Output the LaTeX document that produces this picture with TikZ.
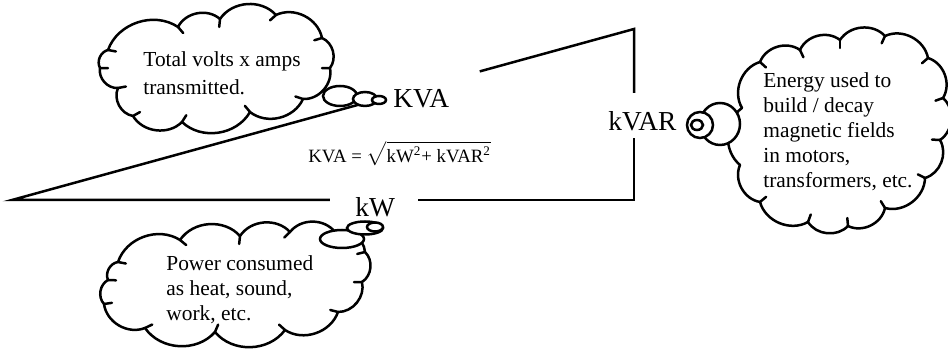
\documentclass[tikz,border=0pt]{standalone}
\usepackage{fontspec}
\setmainfont{Liberation Serif}
\usetikzlibrary{calc}

\begin{document}
\begin{tikzpicture}[
  x=0.5pt, y=-0.5pt,
  side/.style={line width=1.25pt},
  cloudline/.style={line width=1.25pt, line join=round, line cap=round},
  puff/.style={bend left=52},
  bubble/.style={line width=1.25pt, fill=white},
  note/.style={anchor=north west, inner sep=0pt, align=left,
               font=\fontsize{10.7}{12.5}\selectfont},
  qty/.style={anchor=base west, inner sep=0pt,
              font=\fontsize{13.7}{16}\selectfont}]

\useasboundingbox (0,0) rectangle (948,356);

% ================= the power triangle ====================================
\coordinate (v1) at ( 12,200);
\coordinate (v2) at (634,200);
\coordinate (v3) at (634, 29);

\draw[side] ($(v1)!0.580!(v3)$) -- (v1) -- ($(v1)!0.511!(v2)$);
\draw[side] ($(v1)!0.653!(v2)$) -- (v2) -- ($(v2)!0.363!(v3)$);
\draw[side] ($(v2)!0.626!(v3)$) -- (v3) -- ($(v3)!0.248!(v1)$);

\node[qty] (kva)  at (393,108) {KVA};
\node[qty] (kvar) at (608,131) {kVAR};
\node[qty] (kw)   at (355,217) {kW};
\node[anchor=base west, inner sep=0pt, font=\fontsize{9.4}{11}\selectfont]
  (law) at (308,163)
  {KVA = $\sqrt{\mbox{kW\textsuperscript{2}+ kVAR\textsuperscript{2}}}$};

% ================= cloud for KVA ==========================================
\coordinate (kvac) at (215,70);
\draw[cloudline] (108,50) to[puff] (178,27) to[puff] (220,19) to[puff] (276,15)
  to[puff] (322,38) to[puff] (330,68) to[puff] (303,99) to[puff] (250,112)
  to[puff] (182,122) to[puff] (133,116) to[puff] (118,88) to[puff] (100,68)
  to[puff] (108,50);
\foreach \x/\y in {108/50, 178/27, 220/19, 276/15, 322/38, 330/68, 303/99,
                   250/112, 182/122, 133/116, 118/88, 100/68}
  \draw[cloudline] (\x,\y) -- ($(\x,\y)!4pt!(kvac)$);
\draw[bubble] (340,96) ellipse (17 and 10);
\draw[bubble] (365,99) ellipse (12 and 7);
\draw[bubble] (379,100) ellipse (7 and 4);
\node[note, font=\fontsize{10.7}{14}\selectfont] (kvanote) at (143,51)
  {Total volts x amps\\transmitted.};

% ================= cloud for kVAR =========================================
\coordinate (kvarc) at (840,135);
\draw[cloudline] (742,108) to[puff] (760,62) to[puff] (800,50) to[puff] (840,40)
  to[puff] (885,36) to[puff] (928,58) to[puff] (943,98) to[puff] (940,140)
  to[puff] (925,178) to[puff] (885,208) to[puff] (848,226) to[puff] (808,222)
  to[puff] (760,202) to[puff] (740,165) to[puff] (742,108);
\foreach \x/\y in {760/62, 800/50, 840/40, 885/36, 928/58, 943/98, 940/140,
                   925/178, 885/208, 848/226, 808/222, 760/202}
  \draw[cloudline] (\x,\y) -- ($(\x,\y)!4pt!(kvarc)$);
\draw[bubble] (720,124) ellipse (20 and 21);
\draw[bubble] (700,125) ellipse (13 and 13);
\draw[bubble] (697,125) ellipse (6 and 5);
\node[note] (kvarnote) at (763,72)
  {Energy used to\\build / decay\\magnetic fields\\in motors,\\transformers, etc.};

% ================= cloud for kW ===========================================
\coordinate (kwc) at (235,285);
\draw[cloudline] (118,262) to[puff] (180,240) to[puff] (240,236) to[puff] (290,232)
  to[puff] (335,232) to[puff] (365,252) to[puff] (362,282) to[puff] (338,312)
  to[puff] (285,330) to[puff] (215,332) to[puff] (145,328) to[puff] (104,304)
  to[puff] (108,280) to[puff] (118,262);
\foreach \x/\y in {118/262, 180/240, 240/236, 290/232, 365/252, 362/282,
                   338/312, 285/330, 215/332, 145/328, 104/304, 108/280}
  \draw[cloudline] (\x,\y) -- ($(\x,\y)!4pt!(kwc)$);
\draw[bubble] (342,239) ellipse (22 and 9);
\draw[bubble] (365,228) ellipse (18 and 6.5);
\draw[bubble] (375,227) ellipse (8 and 4.5);
\node[note] (kwnote) at (166,255) {Power consumed\\as heat, sound,\\work, etc.};

\end{tikzpicture}
\end{document}
